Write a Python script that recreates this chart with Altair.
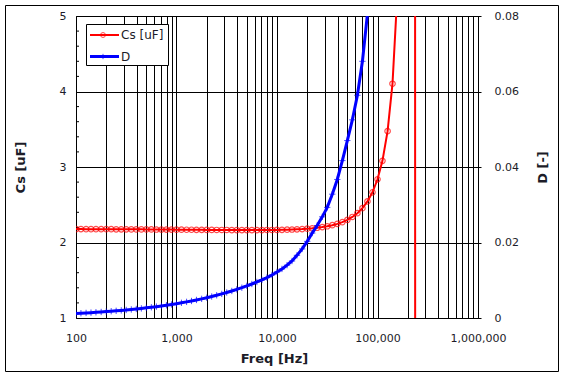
import altair as alt
import pandas as pd

# ---- data ----
freq_hz = [
    100, 112, 126, 141, 158, 178, 200, 224, 251, 282, 316, 355, 398, 447, 501, 562, 631, 708, 794, 891,
    1000, 1120, 1260, 1410, 1580, 1780, 2000, 2240, 2510, 2820, 3160, 3550, 3980, 4470, 5010, 5620, 6310, 7080, 7940, 8910,
    10000, 11200, 12600, 14100, 15800, 17800, 20000, 22400, 25100, 28200, 31600, 35500, 39800, 44700, 50100, 56200, 63100, 70800, 79400, 89100,
    100000, 112000, 126000, 141000, 158000, 178000, 200000, 224000, 251000,
]

cs_uf = [
    2.178, 2.178, 2.177, 2.177, 2.177, 2.176, 2.176, 2.176, 2.175, 2.175, 2.175, 2.174, 2.174, 2.174, 2.173, 2.173, 2.172, 2.172, 2.171, 2.171,
    2.170, 2.170, 2.169, 2.169, 2.168, 2.168, 2.167, 2.167, 2.166, 2.166, 2.166, 2.165, 2.165, 2.165, 2.165, 2.165, 2.165, 2.165, 2.166, 2.166,
    2.167, 2.168, 2.170, 2.172, 2.175, 2.178, 2.183, 2.188, 2.195, 2.204, 2.215, 2.229, 2.247, 2.270, 2.299, 2.338, 2.388, 2.455, 2.544, 2.665,
    2.837, 3.082, 3.475, 4.103, 5.325, 8.785, 44.9, 150.0, -150.0,
]

d_values = [
    0.00120, 0.00127, 0.00135, 0.00142, 0.00151, 0.00160, 0.00170, 0.00180, 0.00190, 0.00201, 0.00213, 0.00226, 0.00239, 0.00254, 0.00269, 0.00285, 0.00301, 0.00319, 0.00338, 0.00358,
    0.00380, 0.00402, 0.00427, 0.00451, 0.00478, 0.00507, 0.00537, 0.00569, 0.00602, 0.00638, 0.00676, 0.00716, 0.00758, 0.00803, 0.00851, 0.00901, 0.00955, 0.0101, 0.0107, 0.0114,
    0.0122, 0.0130, 0.0140, 0.0151, 0.0166, 0.0183, 0.0203, 0.0225, 0.0245, 0.0268, 0.0293, 0.0328, 0.0367, 0.0417, 0.0470, 0.0525, 0.0590, 0.0680, 0.0805, 0.0960,
    0.1150,
]

x_label_values = [100, 1000, 10000, 100000, 1000000]
x_grid_values = [m * 10 ** e for e in range(2, 6) for m in range(1, 10)] + [1000000]
cs_major = [1, 2, 3, 4, 5]
cs_minor = [1.2, 1.4, 1.6, 1.8, 2.2, 2.4, 2.6, 2.8, 3.2, 3.4, 3.6, 3.8, 4.2, 4.4, 4.6, 4.8]
d_major = [0, 0.02, 0.04, 0.06, 0.08]

series_names = ["Cs [uF]", "D"]

cs_df = pd.DataFrame({"f": freq_hz[: len(cs_uf)], "cs": cs_uf})
d_df = pd.DataFrame({"f": freq_hz[: len(d_values)], "d": d_values})
minor_df = pd.DataFrame({"cs": cs_minor})
one = pd.DataFrame({"k": [0]})

FONT = "DejaVu Sans"
TXT = "#1c1c28"

x_enc = alt.X(
    "f:Q",
    scale=alt.Scale(type="log", domain=[100, 1000000]),
    axis=alt.Axis(
        values=x_grid_values,
        labelExpr="indexof([100,1000,10000,100000,1000000], datum.value) >= 0 ? format(datum.value, ',') : ''",
        grid=True, gridColor="black", gridOpacity=1, gridWidth=1,
        ticks=False, tickSize=0, domain=False,
        labelPadding=14, labelFont=FONT, labelFontSize=11, labelColor=TXT,
        labelFlush=False, labelOverlap=False, labelBound=False,
        title="Freq [Hz]", titleFont=FONT, titleFontSize=13, titleFontWeight="bold",
        titleColor=TXT, titleX=198, titleY=40, titleBaseline="middle", titleAlign="center",
    ),
)

cs_y = alt.Y(
    "cs:Q",
    scale=alt.Scale(domain=[1, 5], nice=False, zero=False),
    axis=alt.Axis(
        values=cs_major, format="d",
        grid=True, gridColor="black", gridOpacity=1, gridWidth=1,
        ticks=False, tickSize=0, domain=False,
        labelPadding=10, labelFont=FONT, labelFontSize=11, labelColor=TXT,
        labelOverlap=False, labelFlush=False,
        title="Cs [uF]", titleFont=FONT, titleFontSize=13, titleFontWeight="bold",
        titleColor=TXT, titleX=-56, titleY=151, titleAngle=270,
        titleBaseline="middle", titleAlign="center",
    ),
)

d_y = alt.Y(
    "d:Q",
    scale=alt.Scale(domain=[0, 0.08], nice=False, zero=False),
    axis=alt.Axis(
        orient="right", values=d_major, format="~g",
        grid=False, ticks=True, tickSize=3, tickColor="black", domain=False,
        labelPadding=13, labelFont=FONT, labelFontSize=11, labelColor=TXT,
        labelOverlap=False, labelFlush=False,
        title="D [-]", titleFont=FONT, titleFontSize=13, titleFontWeight="bold",
        titleColor=TXT, titleX=64, titleY=151, titleAngle=270,
        titleBaseline="middle", titleAlign="center",
    ),
)

PLUS = "M-1,0H1M0,-1V1"

cs_base = alt.Chart(cs_df).encode(x=x_enc, y=cs_y)
cs_line = cs_base.mark_line(color="#ff0000", strokeWidth=2, clip=True)
cs_pts = cs_base.mark_point(shape="circle", filled=False, color="#ff0000", size=30, strokeWidth=1.2, clip=True)
minor_ticks = alt.Chart(minor_df).mark_rule(color="black", strokeWidth=1).encode(
    x=alt.value(0), x2=alt.value(3), y=cs_y
)
cs_layer = alt.layer(minor_ticks, cs_line, cs_pts)

d_base = alt.Chart(d_df).encode(x=x_enc, y=d_y)
d_line = d_base.mark_line(color="#0000ff", strokeWidth=3, clip=True)
d_pts = d_base.mark_point(shape=PLUS, filled=False, color="#0000ff", size=40, strokeWidth=1, clip=True)
d_layer = alt.layer(d_line, d_pts)

# legend (drawn manually)
leg_box = alt.Chart(one).mark_rect(fill="white", stroke="black", strokeWidth=1).encode(
    x=alt.value(10.5), x2=alt.value(92.5), y=alt.value(8.5), y2=alt.value(49.5)
)
leg_cs_line = alt.Chart(one).mark_rule(color="#ff0000", strokeWidth=2).encode(
    x=alt.value(14), x2=alt.value(43), y=alt.value(19)
)
leg_cs_pt = alt.Chart(one).mark_point(shape="circle", filled=False, color="#ff0000", size=24, strokeWidth=1).encode(
    x=alt.value(27), y=alt.value(19)
)
leg_d_line = alt.Chart(one).mark_rule(color="#0000ff", strokeWidth=3).encode(
    x=alt.value(14), x2=alt.value(43), y=alt.value(40.5)
)
leg_d_pt = alt.Chart(one).mark_point(shape=PLUS, filled=False, color="#0000ff", size=28, strokeWidth=1).encode(
    x=alt.value(27), y=alt.value(40.5)
)
leg_cs_txt = alt.Chart(one).mark_text(align="left", baseline="middle", font=FONT, fontSize=12, color=TXT).encode(
    x=alt.value(45), y=alt.value(19), text=alt.value(series_names[0])
)
leg_d_txt = alt.Chart(one).mark_text(align="left", baseline="middle", font=FONT, fontSize=12, color=TXT).encode(
    x=alt.value(45), y=alt.value(40.5), text=alt.value(series_names[1])
)

frame = alt.Chart(one).mark_rect(fillOpacity=0, stroke="black", strokeWidth=1).encode(
    x=alt.value(-70.5), x2=alt.value(482.5), y=alt.value(-10.5), y2=alt.value(355.5)
)

chart = (
    alt.layer(
        cs_layer, d_layer,
        leg_box, leg_cs_line, leg_cs_pt, leg_d_line, leg_d_pt, leg_cs_txt, leg_d_txt,
        frame,
    )
    .resolve_scale(y="independent")
    .properties(
        width=402,
        height=302,
        padding={"left": 76, "top": 16, "right": 88, "bottom": 60},
        autosize=alt.AutoSizeParams(type="none"),
    )
    .configure(background="white")
    .configure_view(stroke="black", strokeWidth=1)
)

chart.save("out.html", embed_options={"renderer": "svg", "actions": False})
